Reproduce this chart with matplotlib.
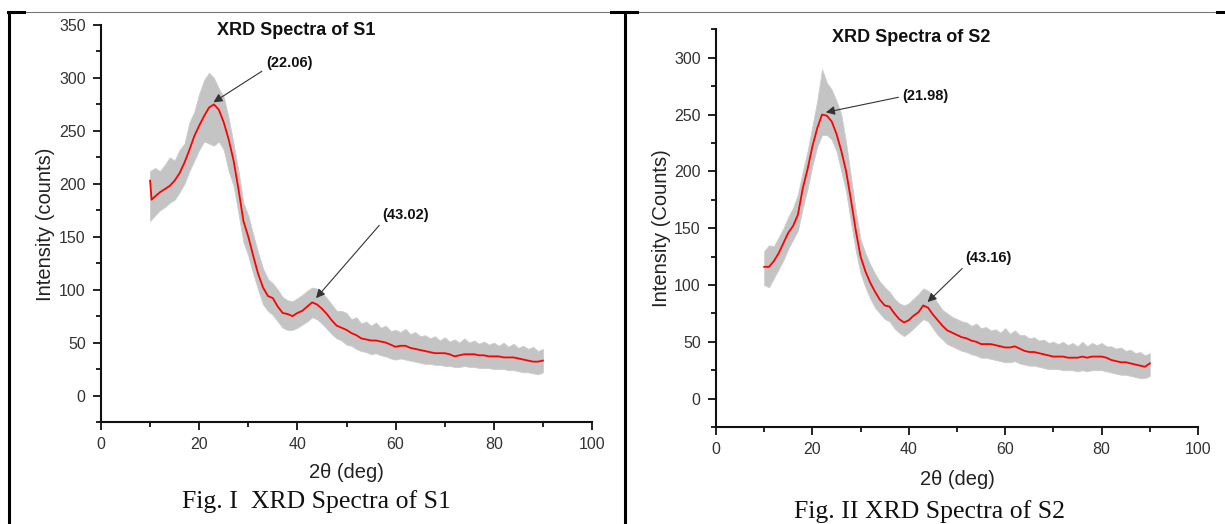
import numpy as np
import matplotlib
matplotlib.use("Agg")
import matplotlib.pyplot as plt
from matplotlib.lines import Line2D
from matplotlib.ticker import MultipleLocator

plt.rcParams['font.family'] = ['Liberation Sans', 'DejaVu Sans']

# ---------------- data ----------------
grid_x = list(range(10, 91))

s1_x = [10, 10.3] + list(range(11, 91))
s1_red = [203, 185, 188, 192, 195, 198, 203, 210, 220, 232, 245, 255, 264, 272, 275, 270,
          258, 242, 222, 195, 165, 150, 132, 115, 102, 94, 92, 84, 78, 77, 75, 78, 80, 84,
          88, 86, 82, 77, 71, 66, 64, 62, 59, 57, 54, 53, 52, 52, 51, 50, 48, 46, 47, 47,
          45, 44, 43, 42, 41, 40, 40, 40, 39, 37, 38, 39, 39, 39, 38, 38, 37, 37, 37, 36,
          36, 36, 35, 34, 33, 32, 32, 33]
s1_hi = [212, 215, 212, 218, 225, 222, 232, 238, 258, 268, 285, 298, 305, 300, 290, 282,
         262, 238, 212, 182, 170, 152, 135, 120, 110, 106, 100, 93, 90, 89, 92, 95, 99, 102,
         101, 97, 92, 86, 80, 80, 78, 72, 74, 68, 70, 66, 69, 64, 66, 61, 62, 60, 63, 58,
         60, 56, 57, 54, 56, 52, 55, 51, 53, 50, 54, 50, 52, 49, 51, 48, 50, 47, 50, 46,
         49, 45, 47, 44, 46, 42, 44]
s1_lo = [165, 170, 175, 178, 182, 185, 192, 200, 212, 222, 232, 240, 238, 236, 240, 232,
         212, 198, 172, 145, 132, 115, 100, 86, 80, 76, 70, 64, 62, 62, 64, 67, 70, 74, 72,
         68, 63, 58, 54, 52, 48, 47, 44, 42, 41, 39, 40, 38, 37, 35, 34, 35, 34, 33, 32, 31,
         30, 30, 29, 29, 28, 28, 27, 27, 28, 27, 27, 26, 26, 26, 25, 25, 25, 24, 24, 23, 22,
         22, 21, 20, 22]

s2_x = list(range(10, 91))
s2_red = [116, 116, 121, 128, 137, 146, 152, 162, 185, 202, 222, 238, 250, 249, 244, 233,
          218, 200, 175, 148, 125, 112, 102, 94, 87, 82, 81, 75, 70, 67, 69, 73, 76, 82, 80,
          74, 69, 64, 60, 58, 56, 54, 53, 51, 50, 48, 48, 48, 47, 46, 45, 45, 46, 44, 42, 41,
          41, 40, 39, 38, 37, 37, 37, 36, 36, 36, 37, 36, 37, 37, 37, 36, 34, 33, 32, 32, 31,
          30, 29, 28, 31]
s2_hi = [130, 135, 134, 142, 150, 160, 168, 180, 200, 218, 240, 262, 290, 278, 272, 262,
         250, 225, 195, 165, 140, 128, 118, 110, 103, 98, 94, 88, 84, 82, 84, 88, 92, 97, 95,
         90, 84, 78, 75, 72, 70, 68, 67, 64, 66, 62, 63, 60, 61, 58, 62, 57, 60, 56, 56, 53,
         54, 51, 52, 49, 50, 48, 50, 47, 49, 46, 50, 46, 49, 47, 49, 46, 46, 44, 45, 42, 43,
         40, 41, 38, 40]
s2_lo = [100, 98, 106, 114, 122, 132, 140, 148, 168, 185, 205, 222, 232, 232, 228, 218,
         200, 182, 155, 130, 110, 98, 88, 80, 75, 70, 68, 62, 58, 55, 58, 62, 66, 70, 68, 62,
         56, 52, 48, 46, 44, 42, 41, 39, 38, 36, 36, 35, 34, 33, 32, 32, 33, 31, 30, 29, 29,
         28, 27, 26, 26, 26, 25, 25, 25, 24, 25, 24, 25, 25, 25, 24, 23, 22, 21, 21, 20, 19,
         18, 18, 20]

x_ticks = [0, 20, 40, 60, 80, 100]
s1_yticks = [0, 50, 100, 150, 200, 250, 300, 350]
s2_yticks = [0, 50, 100, 150, 200, 250, 300]

# peak annotations: label, tip (x, y), text centre (x, y), arrow start on text (relpos)
s1_peaks = [("(22.06)", (22.9, 277), (38.3, 314), (0.0, 0.1)),
            ("(43.02)", (43.8, 92), (62.1, 171), (0.0, 0.0))]
s2_peaks = [("(21.98)", (22.8, 252), (43.5, 266), (0.0, 0.5)),
            ("(43.16)", (43.9, 85), (56.5, 124), (0.02, 0.0))]

# ---------------- figure ----------------
W, H = 1225, 524
fig = plt.figure(figsize=(W / 100, H / 100), dpi=100)

def px_box(x0, x1, ytop, ybot):
    return [x0 / W, 1 - ybot / H, (x1 - x0) / W, (ybot - ytop) / H]

ax1 = fig.add_axes(px_box(101, 592, 25, 422))
ax2 = fig.add_axes(px_box(716, 1198, 29.4, 427))

tick_col = '#333333'

def style(ax, yticks, ylim, ylabel, title, title_pos, peaks, ylab_pos, xlab_pos):
    ax.set_xlim(0, 100)
    ax.set_ylim(*ylim)
    ax.set_xticks(x_ticks)
    ax.set_yticks(yticks)
    ax.xaxis.set_minor_locator(MultipleLocator(10))
    ax.yaxis.set_minor_locator(MultipleLocator(25))
    for s in ['top', 'right']:
        ax.spines[s].set_visible(False)
    for s in ['left', 'bottom']:
        ax.spines[s].set_linewidth(1.5)
        ax.spines[s].set_color('#111111')
    ax.tick_params(axis='both', which='major', direction='out', length=6, width=1.3,
                   labelsize=11.5, labelcolor=tick_col, color='#111111', pad=5)
    ax.tick_params(axis='both', which='minor', direction='out', length=3.5, width=1.3,
                   color='#111111')
    ax.set_ylabel(ylabel, fontsize=14.5, color='#222222')
    ax.set_xlabel('2θ (deg)', fontsize=14.5, color='#222222')
    ax.yaxis.set_label_coords(*ylab_pos)
    ax.xaxis.set_label_coords(*xlab_pos)
    ax.yaxis.label.set_verticalalignment('center')
    ax.xaxis.label.set_verticalalignment('center')
    ax.text(title_pos[0], title_pos[1], title, transform=ax.transAxes, ha='center',
            va='center', fontsize=13, fontweight='bold', color='#111111')
    for lab, tip, txt, rel in peaks:
        ax.annotate(lab, xy=tip, xytext=txt, ha='center', va='center', fontsize=10.5,
                    fontweight='bold', color='#111111',
                    arrowprops=dict(arrowstyle='-|>', color='#333333', lw=0.8,
                                    mutation_scale=13, shrinkA=1, shrinkB=0, relpos=rel))

# S1
ax1.fill_between(grid_x, s1_lo, s1_hi, color='#c4c4c4', lw=0.6, edgecolor='#cccccc')
ax1.plot(s1_x, s1_red, color='#ff0000', lw=1.3)
style(ax1, s1_yticks, (-25, 350), 'Intensity (counts)', 'XRD Spectra of S1', (0.397, 0.987),
      s1_peaks, (-0.114, 0.499), (0.499, -0.128))

# S2
ax2.fill_between(grid_x, s2_lo, s2_hi, color='#c4c4c4', lw=0.6, edgecolor='#cccccc')
ax2.plot(s2_x, s2_red, color='#ff0000', lw=1.3)
style(ax2, s2_yticks, (-25, 325), 'Intensity (Counts)', 'XRD Spectra of S2', (0.405, 0.979),
      s2_peaks, (-0.114, 0.50), (0.500, -0.133))

# captions
fig.text(316 / W, 1 - 502 / H, 'Fig. I  XRD Spectra of S1', ha='center', va='center',
         fontsize=18.5, family=['Liberation Serif', 'DejaVu Serif'], color='#111111')
fig.text(929 / W, 1 - 512 / H, 'Fig. II XRD Spectra of S2', ha='center', va='center',
         fontsize=18.5, family=['Liberation Serif', 'DejaVu Serif'], color='#111111')

# table borders
def hline(x0, x1, y, lw, col):
    fig.add_artist(Line2D([x0 / W, x1 / W], [1 - y / H, 1 - y / H], lw=lw, color=col))

def vline(x, y0, y1, lw, col):
    fig.add_artist(Line2D([x / W, x / W], [1 - y0 / H, 1 - y1 / H], lw=lw, color=col))

hline(8, 1225, 12, 0.8, '#777777')
hline(8, 24, 12, 2.2, '#000000')
hline(611, 637, 12, 2.2, '#000000')
hline(1217, 1225, 12, 2.2, '#000000')
vline(9, 12, 524, 2.2, '#000000')
vline(624.5, 12, 524, 2.2, '#000000')

fig.savefig('out.png', dpi=100)
